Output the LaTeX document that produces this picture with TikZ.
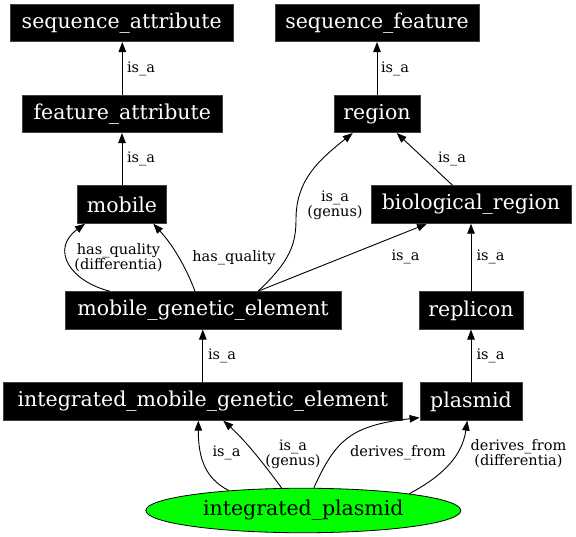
\documentclass[tikz,border=0pt]{standalone}
\usepackage{fontspec}
\setmainfont{DejaVu Serif}
\usetikzlibrary{arrows.meta,shapes.geometric}
\begin{document}
\begin{tikzpicture}[x=1pt,y=-1pt,
  box/.style={rectangle,fill=black,draw=black!75,line width=0.8pt,text=white,
    minimum height=37.5pt,inner sep=0pt,font=\fontsize{20.5}{24}\selectfont},
  ell/.style={ellipse,fill=green,draw=black,line width=0.8pt,inner sep=0pt,
    minimum width=315pt,minimum height=44.5pt,font=\fontsize{20.5}{24}\selectfont},
  lbl/.style={inner sep=0pt,align=center,font=\fontsize{14.5}{15}\selectfont},
  edge/.style={draw=black,line width=0.9pt,-{Triangle[length=10pt,width=7.5pt]}}
]
\useasboundingbox (0,0) rectangle (576,537);
\node[box,minimum width=223pt] (sa) at (121.7,22.9) {sequence\_attribute};
\node[box,minimum width=204pt] (sf) at (377,22.9) {sequence\_feature};
\node[box,minimum width=200pt] (fa) at (122.3,113.9) {feature\_attribute};
\node[box,minimum width=86pt] (rg) at (377,113.9) {region};
\node[box,minimum width=89.4pt] (mb) at (122,204.6) {mobile};
\node[box,minimum width=200pt] (br) at (471,204.6) {biological\_region};
\node[box,minimum width=276pt] (mge) at (203,310.4) {mobile\_genetic\_element};
\node[box,minimum width=104pt] (rep) at (471,310.4) {replicon};
\node[box,minimum width=399pt] (imge) at (202.8,401.5) {integrated\_mobile\_genetic\_element};
\node[box,minimum width=102pt] (pl) at (471,401.5) {plasmid};
\node[ell] (ip) at (303.3,510.5) {integrated\_plasmid};

% straight is_a edges
\draw[edge] (fa.north) -- (fa.north |- sa.south);
\draw[edge] (rg.north) -- (sf.south);
\draw[edge] (mb.north) -- (mb.north |- fa.south);
\draw[edge] ([xshift=-18.3pt]br.north) -- ([xshift=19.7pt]rg.south);
\draw[edge] (rep.north) -- (br.south);
\draw[edge] (imge.north) -- (imge.north |- mge.south);
\draw[edge] (pl.north) -- (rep.south);

% mobile_genetic_element edges
\draw[edge] ([xshift=55pt]mge.north) .. controls ([xshift=87pt,yshift=30pt]mge.north) and ([xshift=93pt,yshift=47pt]mge.north) .. ([xshift=93pt,yshift=72pt]mge.north)
  .. controls ([xshift=93pt,yshift=112pt]mge.north) and ([xshift=117pt,yshift=132pt]mge.north) .. ([xshift=-24.3pt]rg.south);
\draw[edge] ([xshift=55pt]mge.north) -- ([xshift=-44pt]br.south);
\draw[edge] ([xshift=-93pt]mge.north) .. controls ([xshift=-133pt,yshift=10pt]mge.north) and ([xshift=-153pt,yshift=42pt]mge.north) .. ([xshift=-37pt]mb.south);
\draw[edge] ([xshift=-8pt]mge.north) .. controls ([xshift=-17pt,yshift=24pt]mge.north) and ([xshift=-30pt,yshift=46pt]mge.north) .. ([xshift=31.3pt]mb.south);

% integrated_plasmid edges
\draw[edge] (ip.165) .. controls ([xshift=-98pt,yshift=32pt]ip.center) and ([xshift=-105pt,yshift=52pt]ip.center) .. ([xshift=-4.5pt]imge.south);
\draw[edge] (ip.134) .. controls ([xshift=-38pt,yshift=45pt]ip.center) and ([xshift=-58pt,yshift=70pt]ip.center) .. ([xshift=20.5pt]imge.south);
\draw[edge] (ip.65) .. controls ([xshift=32pt,yshift=70pt]ip.center) and ([xshift=47pt,yshift=85pt]ip.center) .. ([yshift=3pt]pl.south west);
\draw[edge] (ip.9) .. controls ([xshift=142pt,yshift=36pt]ip.center) and ([xshift=159pt,yshift=56pt]ip.center) .. ([xshift=-3.7pt]pl.south);

% labels
\node[lbl] (l1) at (141,68.4) {is\_a};
\node[lbl] (l2) at (395,68.4) {is\_a};
\node[lbl] (l3) at (141,158.5) {is\_a};
\node[lbl] (l4) at (452,158.5) {is\_a};
\node[lbl] (l5) at (335,205) {is\_a\\(genus)};
\node[lbl] (l6) at (405.5,257) {is\_a};
\node[lbl] (l7) at (118.5,257.5) {has\_quality\\(differentia)};
\node[lbl] (l8) at (234,257.3) {has\_quality};
\node[lbl] (l9) at (490.5,257) {is\_a};
\node[lbl] (l10) at (222,355.5) {is\_a};
\node[lbl] (l11) at (490.5,355.5) {is\_a};
\node[lbl] (l12) at (226.5,453) {is\_a};
\node[lbl] (l13) at (293,454.5) {is\_a\\(genus)};
\node[lbl] (l14) at (398,453) {derives\_from};
\node[lbl] (l15) at (518.5,453.5) {derives\_from\\(differentia)};
\end{tikzpicture}
\end{document}
